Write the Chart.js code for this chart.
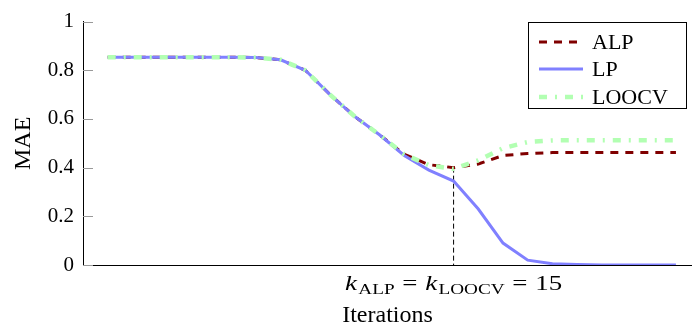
<!DOCTYPE html>
<html>
<head>
<meta charset="utf-8">
<script src="https://cdn.jsdelivr.net/npm/chart.js@4"></script>
<style>
  html, body { margin: 0; padding: 0; background: #fff; }
  #wrap { width: 692px; height: 325px; }
</style>
</head>
<body>
<div id="wrap"><canvas id="myChart" width="692" height="325"></canvas></div>
<script>
// values
const iterations = [1, 2, 3, 4, 5, 6, 7, 8, 9, 10, 11, 12, 13, 14, 15, 16, 17, 18, 19, 20, 21, 22, 23, 24];
const alp   = [0.854, 0.854, 0.854, 0.854, 0.854, 0.854, 0.852, 0.843, 0.80, 0.70, 0.61, 0.535, 0.455, 0.412, 0.40, 0.415, 0.45, 0.458, 0.462, 0.462, 0.462, 0.462, 0.462, 0.462];
const lp    = [0.854, 0.854, 0.854, 0.854, 0.854, 0.854, 0.852, 0.843, 0.80, 0.70, 0.61, 0.535, 0.45, 0.39, 0.345, 0.23, 0.09, 0.02, 0.005, 0.002, 0, 0, 0, 0];
const loocv = [0.854, 0.854, 0.854, 0.854, 0.854, 0.854, 0.852, 0.843, 0.80, 0.70, 0.61, 0.535, 0.455, 0.41, 0.395, 0.43, 0.48, 0.505, 0.512, 0.513, 0.513, 0.513, 0.513, 0.513];
const yTicks = [0, 0.2, 0.4, 0.6, 0.8, 1];
const kBest = 15;
const kBestMae = 0.4;

const serif = "'Liberation Serif', 'Times New Roman', serif";
const fs = 21;

function pts(ys) {
  return iterations.map((x, i) => ({ x: x, y: ys[i] }));
}

// inward y ticks, the k label under the axis and the boxed legend
const extras = {
  id: "extras",
  afterDraw(chart) {
    const ctx = chart.ctx;
    const xs = chart.scales.x, ys = chart.scales.y;
    ctx.save();

    ctx.strokeStyle = "#999";
    ctx.lineWidth = 1;
    yTicks.forEach(v => {
      const py = Math.round(ys.getPixelForValue(v)) + 0.5;
      ctx.beginPath();
      ctx.moveTo(xs.left, py);
      ctx.lineTo(xs.left + 10, py);
      ctx.stroke();
    });

    // k_ALP = k_LOOCV = 15, stretched a bit wider like the tex output
    const main = fs + "px " + serif, sub = "15px " + serif;
    const parts = [
      { t: "k", f: "italic " + main, dy: 0, gap: 1 },
      { t: "ALP", f: sub, dy: 4, gap: 6 },
      { t: "=", f: main, dy: 0, gap: 6 },
      { t: "k", f: "italic " + main, dy: 0, gap: 1 },
      { t: "LOOCV", f: sub, dy: 4, gap: 6 },
      { t: "=", f: main, dy: 0, gap: 6 },
      { t: String(kBest), f: main, dy: 0, gap: 0 }
    ];
    let w = 0;
    parts.forEach(p => { ctx.font = p.f; p.w = ctx.measureText(p.t).width; w += p.w + p.gap; });
    const target = 217;
    const sx = target / w;
    const cx = xs.getPixelForValue(kBest);
    ctx.save();
    ctx.translate(cx - target / 2, 290);
    ctx.scale(sx, 1);
    ctx.fillStyle = "#000";
    ctx.textBaseline = "alphabetic";
    ctx.textAlign = "left";
    let px = 0;
    parts.forEach(p => {
      ctx.font = p.f;
      ctx.fillText(p.t, px, p.dy);
      px += p.w + p.gap;
    });
    ctx.restore();

    // legend
    const bx = 528, by = 22, bw = 158, bh = 86;
    ctx.fillStyle = "#fff";
    ctx.fillRect(bx, by, bw, bh);
    ctx.strokeStyle = "#000";
    ctx.lineWidth = 1;
    ctx.strokeRect(bx + 0.5, by + 0.5, bw, bh);
    const rows = [42, 69, 97];
    ["ALP", "LP", "LOOCV"].forEach((name, i) => {
      const ds = chart.data.datasets.find(d => d.label === name);
      ctx.strokeStyle = ds.borderColor;
      ctx.lineWidth = ds.borderWidth;
      ctx.setLineDash(ds.borderDash || []);
      ctx.beginPath();
      ctx.moveTo(539, rows[i]);
      ctx.lineTo(583, rows[i]);
      ctx.stroke();
      ctx.setLineDash([]);
      ctx.fillStyle = "#000";
      ctx.font = "22px " + serif;
      ctx.textBaseline = "middle";
      ctx.fillText(name, 592, rows[i] + 1);
    });
    ctx.restore();
  }
};

new Chart("myChart", {
  type: "line",
  data: {
    datasets: [
      {
        label: "LOOCV",
        data: pts(loocv),
        borderColor: "rgb(178,255,178)",
        borderWidth: 4.5,
        borderDash: [8, 8, 2, 8],
        pointRadius: 0,
        order: 0
      },
      {
        label: "LP",
        data: pts(lp),
        borderColor: "rgb(128,128,255)",
        borderWidth: 3,
        pointRadius: 0,
        order: 1
      },
      {
        label: "ALP",
        data: pts(alp),
        borderColor: "rgb(128,0,0)",
        borderWidth: 3,
        borderDash: [8, 7],
        pointRadius: 0,
        order: 2
      },
      {
        label: "kmark",
        data: [{ x: kBest, y: kBestMae }, { x: kBest, y: 0 }],
        borderColor: "#000",
        borderWidth: 1,
        borderDash: [5, 3],
        pointRadius: 0,
        order: 3
      }
    ]
  },
  options: {
    responsive: false,
    animation: false,
    events: [],
    layout: { padding: { top: 16, right: 0, bottom: 0, left: 0 } },
    plugins: {
      legend: { display: false },
      tooltip: { enabled: false }
    },
    scales: {
      x: {
        type: "linear",
        min: 0,
        max: 24.65,
        grid: { display: false },
        border: { display: true, color: "#000", width: 1 },
        ticks: { display: false },
        title: {
          display: true,
          text: "Iterations",
          color: "#000",
          font: { family: serif, size: 24, lineHeight: 0.8 },
          padding: { top: 0, bottom: 0 }
        },
        afterFit(scale) { scale.height = 60; }
      },
      y: {
        min: 0,
        max: 1,
        grid: { display: false, drawTicks: false },
        border: { display: true, color: "#000", width: 1 },
        afterBuildTicks(scale) { scale.ticks = yTicks.map(v => ({ value: v })); },
        ticks: {
          color: "#000",
          padding: 9,
          font: { family: serif, size: fs },
          callback: v => String(+v.toFixed(1))
        },
        title: {
          display: true,
          text: "MAE",
          color: "#000",
          font: { family: serif, size: 24, lineHeight: 1 },
          padding: { top: 12, bottom: 0 }
        },
        afterFit(scale) { scale.width = 83; }
      }
    }
  },
  plugins: [extras]
});
</script>
</body>
</html>
